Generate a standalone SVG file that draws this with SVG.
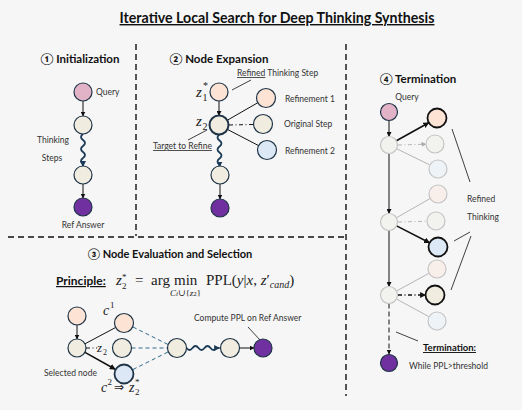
<svg xmlns="http://www.w3.org/2000/svg" width="522" height="410" viewBox="0 0 522 410">
<defs>
<marker id="ah" viewBox="0 0 10 10" refX="9" refY="5" markerWidth="5" markerHeight="5" markerUnits="userSpaceOnUse" orient="auto"><path d="M0,0 L10,5 L0,10 z" fill="#111"/></marker>
<marker id="ahb" viewBox="0 0 10 10" refX="9" refY="5" markerWidth="6" markerHeight="6" markerUnits="userSpaceOnUse" orient="auto"><path d="M0,0 L10,5 L0,10 z" fill="#111"/></marker>
<marker id="ahw" viewBox="0 0 10 10" refX="9" refY="5" markerWidth="6" markerHeight="6" markerUnits="userSpaceOnUse" orient="auto"><path d="M0,0 L10,5 L0,10 z" fill="#1c3b57"/></marker>
<marker id="ahg" viewBox="0 0 10 10" refX="9" refY="5" markerWidth="5" markerHeight="5" markerUnits="userSpaceOnUse" orient="auto"><path d="M0,0 L10,5 L0,10 z" fill="#aaa"/></marker>
</defs>
<style>
.t{font-family:Lato,"DejaVu Sans",sans-serif;fill:#222}
.h{font-family:Lato,"DejaVu Sans",sans-serif;font-weight:bold;fill:#111}
.lb{font-family:Lato,"Open Sans",sans-serif;font-size:8.5px;fill:#333}
.m{font-family:"Liberation Serif","DejaVu Serif",serif;fill:#222}
.mi{font-family:"Liberation Serif",serif;font-style:italic;fill:#222}
.div{stroke:#111;stroke-width:1.4;stroke-dasharray:6,4;fill:none}
.n{stroke:#1f3447;stroke-width:1.2}
.nb{stroke:#111;stroke-width:1.8}
.ng{stroke:#c4c4c4;stroke-width:1.2}
.pk{fill:#e2b3c7}.pe{fill:#fce3d4}.cr{fill:#f0ede0}.bl{fill:#dce8f5}.pu{fill:#7030a0}
.gr{fill:#f2f2ef}.fpe{fill:#f8eeea}.fbl{fill:#eef3f8}
.e{stroke:#111;stroke-width:1;fill:none}
.eb{stroke:#111;stroke-width:1.6;fill:none}
.eg{stroke:#b5b5b5;stroke-width:1;fill:none}
.dd{stroke-dasharray:4,2.5,1,2.5}
.tl{stroke:#2d6a8a;stroke-width:1;stroke-dasharray:4,3;fill:none}
.w{stroke:#1c3b57;stroke-width:1.8;fill:none}
.p{stroke:#111;stroke-width:0.8;fill:none}
</style>
<rect width="522" height="410" fill="#f6f6f6"/>
<text class="h" x="277" y="23" font-size="14.2" text-anchor="middle" text-decoration="underline">Iterative Local Search for Deep Thinking Synthesis</text>
<g id="dividers">
<line class="div" x1="136" y1="44" x2="136" y2="236"/>
<line class="div" x1="346" y1="44" x2="346" y2="396"/>
<line class="div" x1="8" y1="237" x2="346" y2="237"/>
</g>
<g id="titles">
<text class="h" x="80" y="63" font-size="11.5" text-anchor="middle">① Initialization</text>
<text class="h" x="219" y="63" font-size="11.5" text-anchor="middle">② Node Expansion</text>
<text class="h" x="170" y="258" font-size="11" text-anchor="middle">③ Node Evaluation and Selection</text>
<text class="h" x="418" y="83" font-size="11.5" text-anchor="middle">④ Termination</text>
</g>
<g id="connectors">
<line class="e" x1="83" y1="101" x2="83" y2="116" marker-end="url(#ah)"/>
<path class="w" d="M83,134 q-4,3 0,6 t0,6 t0,6 t0,6 t0,6 l0,2.5" marker-end="url(#ahw)"/>
<line class="e" x1="83" y1="184" x2="83" y2="198" marker-end="url(#ah)"/>
<line class="e" x1="219" y1="101" x2="219" y2="115.5" marker-end="url(#ah)"/>
<line class="e" x1="227.2" y1="120.3" x2="257.8" y2="102.7"/>
<line class="e dd" x1="229" y1="125" x2="253" y2="124.5"/>
<line class="e" x1="227.4" y1="129.4" x2="258.6" y2="145.6"/>
<path class="w" d="M219.5,134.5 q-4,3 0,6 t0,6 t0,6 t0,6 t0,6 l0,2.5" marker-end="url(#ahw)"/>
<line class="e" x1="220" y1="184" x2="220" y2="199" marker-end="url(#ah)"/>
<line class="e" x1="77" y1="325" x2="77" y2="339" marker-end="url(#ah)"/>
<line class="e" x1="85" y1="343.8" x2="115.6" y2="327.5"/>
<line class="e dd" x1="86" y1="348" x2="97" y2="348"/>
<line class="eb" x1="85" y1="352.4" x2="115.2" y2="369.2" marker-end="url(#ahb)"/>
<line class="tl" x1="133" y1="327" x2="168" y2="344.5"/>
<line class="tl" x1="131.5" y1="348" x2="167.5" y2="348"/>
<line class="tl" x1="133" y1="369.5" x2="168" y2="352"/>
<path class="w" d="M186.5,348 q3,4 6,0 t6,0 t6,0 t6,0 t6,0 l3,0" marker-end="url(#ahw)"/>
<line class="e" x1="239.5" y1="348" x2="254" y2="348" marker-end="url(#ah)"/>
<line class="e" x1="389" y1="120.5" x2="389" y2="136.5" marker-end="url(#ah)"/>
<line class="eb" x1="396.4" y1="140.8" x2="428.7" y2="122.7" marker-end="url(#ahb)"/>
<line class="eg dd" x1="398" y1="145" x2="426" y2="144.2" marker-end="url(#ahg)"/>
<line class="eg" x1="396.6" y1="148.7" x2="429.5" y2="164.8"/>
<line class="e" x1="389" y1="153.5" x2="389" y2="213.5" marker-end="url(#ah)"/>
<line class="eg" x1="396.4" y1="217.8" x2="429.8" y2="198.7"/>
<line class="eg dd" x1="398" y1="222" x2="427" y2="221.2"/>
<line class="eb" x1="396.6" y1="225.9" x2="429.5" y2="242.7" marker-end="url(#ahb)"/>
<line class="e" x1="389" y1="230.5" x2="389" y2="286.5" marker-end="url(#ah)"/>
<line class="eg" x1="396.5" y1="291" x2="428.6" y2="273.5"/>
<line class="eb dd" x1="398" y1="295" x2="425.5" y2="295" marker-end="url(#ahb)"/>
<line class="eg" x1="396.5" y1="299" x2="428.6" y2="316.5"/>
<line class="e" x1="389" y1="303.5" x2="389" y2="354" stroke-dasharray="5,3" marker-end="url(#ah)"/>
<line class="p" x1="232" y1="90" x2="251" y2="80"/>
<line class="p" x1="188" y1="140" x2="207" y2="130"/>
<line class="p" x1="248" y1="327" x2="260" y2="340"/>
<line class="p" x1="452" y1="129" x2="470" y2="182"/>
<line class="p" x1="470" y1="232" x2="454" y2="241"/>
<line class="p" x1="471" y1="236" x2="451" y2="290"/>
<line class="p" x1="396" y1="332" x2="418" y2="341"/>
</g>
<g id="init-nodes">
<circle id="q1" class="n pk" cx="83" cy="92" r="9"/>
<circle id="s1a" class="n cr" cx="83" cy="125" r="9"/>
<circle id="s1b" class="n cr" cx="83" cy="175" r="9"/>
<circle id="a1" class="n pu" cx="83" cy="207" r="9"/>
</g>
<g id="exp-nodes">
<circle id="z1" class="n pe" cx="219" cy="92" r="9"/>
<circle id="z2n" class="cr" cx="219" cy="125" r="9.5" stroke="#1f3447" stroke-width="2"/>
<circle id="s2b" class="n cr" cx="220" cy="175" r="9"/>
<circle id="a2" class="n pu" cx="220" cy="208" r="9"/>
<circle id="ref1" class="n pe" cx="266" cy="98" r="9.5"/>
<circle id="orig" class="n cr" cx="263" cy="124" r="9.5"/>
<circle id="ref2" class="n bl" cx="267" cy="150" r="9.5"/>
</g>
<g id="eval-nodes">
<circle id="e0" class="n pe" cx="77" cy="316" r="9"/>
<circle id="esel" class="n cr" cx="77" cy="348" r="9"/>
<circle id="ec1" class="n pe" cx="124" cy="323" r="9.5"/>
<circle id="ez2" class="n cr" cx="122" cy="348" r="9.5"/>
<circle id="ec2" class="bl" cx="124" cy="374" r="9.5" stroke="#1f3447" stroke-width="1.8"/>
<circle id="e4" class="n cr" cx="177" cy="348" r="9.5"/>
<circle id="e5" class="n cr" cx="230" cy="348" r="9.5"/>
<circle id="ea" class="n pu" cx="263" cy="348" r="9"/>
</g>
<g id="term-nodes">
<circle id="tq" class="n pk" cx="389" cy="112" r="8.5"/>
<circle id="tA" class="ng gr" cx="389" cy="145" r="8.5"/>
<circle id="tR1" class="nb pe" cx="437" cy="118" r="9.5"/>
<circle id="tR2" class="ng gr" cx="435" cy="144" r="9"/>
<circle id="tR3" class="ng fbl" cx="438" cy="169" r="9"/>
<circle id="tB" class="ng gr" cx="389" cy="222" r="8.5"/>
<circle id="tR4" class="ng fpe" cx="438" cy="194" r="9"/>
<circle id="tR5" class="ng gr" cx="436" cy="221" r="9"/>
<circle id="tR6" class="nb bl" cx="438" cy="247" r="9.5"/>
<circle id="tR7" class="ng fpe" cx="437" cy="269" r="9"/>
<circle id="tC" class="ng gr" cx="389" cy="295" r="8.5"/>
<circle id="tR8" class="nb cr" cx="435" cy="295" r="9.5"/>
<circle id="tR9" class="ng fbl" cx="437" cy="321" r="9"/>
<circle id="ta" class="n pu" cx="389" cy="363" r="8.5"/>
</g>
<g id="labels">
<text class="lb" x="96" y="95">Query</text>
<text class="lb" x="53" y="143" text-anchor="middle" font-size="9">Thinking</text>
<text class="lb" x="52" y="161" text-anchor="middle" font-size="9">Steps</text>
<text class="lb" x="83" y="228" text-anchor="middle">Ref Answer</text>
<text class="lb" x="237" y="76"><tspan text-decoration="underline">Refined</tspan> Thinking Step</text>
<text class="lb" x="285" y="102">Refinement 1</text>
<text class="lb" x="284" y="127">Original Step</text>
<text class="lb" x="285" y="154">Refinement 2</text>
<text class="lb" x="153" y="149" text-decoration="underline">Target to Refine</text>
<text class="mi" x="196" y="97" font-size="15">z</text>
<text class="m" x="202.5" y="101" font-size="10">1</text>
<text class="m" x="203" y="89" font-size="10">*</text>
<text class="mi" x="196" y="126" font-size="15">z</text>
<text class="m" x="202.5" y="130" font-size="10">2</text>
<text class="lb" x="407" y="100" text-anchor="middle">Query</text>
<text class="lb" x="467" y="202" font-size="9.5">Refined</text>
<text class="lb" x="467" y="220" font-size="9.5">Thinking</text>
<text class="h" x="423" y="351" font-size="9.5" text-decoration="underline">Termination:</text>
<text class="lb" x="409" y="369">While PPL&gt;threshold</text>
<text class="h" x="56" y="285" font-size="12" text-decoration="underline">Principle:</text>
<text class="mi" x="116" y="285" font-size="15">z</text>
<text class="m" x="122" y="289" font-size="9">2</text>
<text class="m" x="122" y="280" font-size="9">*</text>
<text class="m" x="135" y="285" font-size="15">=</text>
<text class="m" x="151" y="285" font-size="15">arg</text>
<text class="m" x="174" y="285" font-size="15">min</text>
<text class="m" x="170" y="296" font-size="9"><tspan class="mi">C</tspan><tspan class="mi" font-size="7">i</tspan>∪{<tspan class="mi">z</tspan><tspan font-size="7">2</tspan>}</text>
<text class="m" x="206" y="285" font-size="15">PPL(<tspan class="mi">y</tspan>|<tspan class="mi">x</tspan>, <tspan class="mi">z</tspan>′<tspan class="mi" font-size="10" dy="3">cand</tspan><tspan dy="-3">)</tspan></text>
<text class="mi" x="103" y="315" font-size="14">c</text>
<text class="m" x="110" y="308" font-size="9">1</text>
<text class="mi" x="97" y="352" font-size="13">z</text>
<text class="m" x="103" y="355" font-size="8">2</text>
<text class="lb" x="44" y="376">Selected node</text>
<text class="mi" x="101" y="392" font-size="14">c</text>
<text class="m" x="107.5" y="385" font-size="9">2</text>
<text x="114" y="391" font-size="12" font-family="'DejaVu Sans',sans-serif" fill="#222">⇒</text>
<text class="mi" x="129" y="392" font-size="14">z</text>
<text class="m" x="135" y="395" font-size="9">2</text>
<text class="m" x="135" y="385" font-size="9">*</text>
<text class="lb" x="194" y="321">Compute PPL on Ref Answer</text>
</g>
</svg>
